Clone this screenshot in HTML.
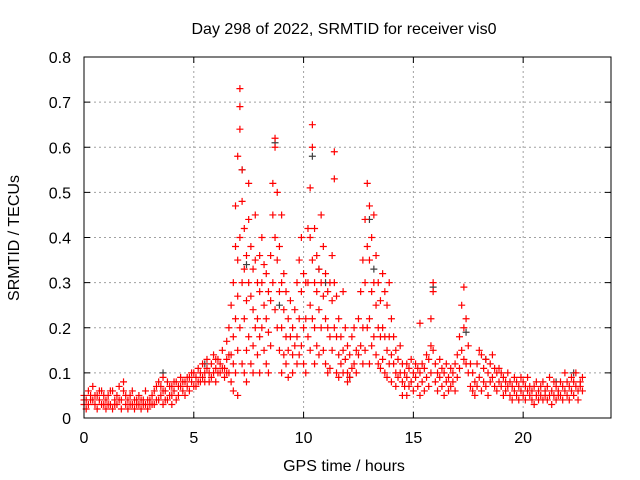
<!DOCTYPE html>
<html><head><meta charset="utf-8"><style>
body{margin:0;background:#fff;}
svg{display:block;font-family:"Liberation Sans",sans-serif;}
</style></head><body>
<svg id="chart" width="640" height="480">
<text x="344" y="34" text-anchor="middle" font-size="16">Day 298 of 2022, SRMTID for receiver vis0</text>
<text x="344" y="471" text-anchor="middle" font-size="16">GPS time / hours</text>
<text transform="translate(19,238) rotate(-90)" text-anchor="middle" font-size="16">SRMTID / TECUs</text>
<g id="grid"></g><g id="ticks"></g><g id="grey"></g><g id="pts"></g>
<rect x="84" y="57" width="527" height="361" fill="none" stroke="#000" stroke-width="1"/>
</svg>
<script>
const xTicks=[0,5,10,15,20];
const yTicks=[0,0.1,0.2,0.3,0.4,0.5,0.6,0.7,0.8];
const yTickLabels=["0","0.1","0.2","0.3","0.4","0.5","0.6","0.7","0.8"];
const times=[0.0,0.1,0.2,0.3,0.4,0.5,0.6,0.7,0.8,0.9,1.0,1.1,1.2,1.3,1.4,1.5,1.6,1.7,1.8,1.9,2.0,2.1,2.2,2.3,2.4,2.5,2.6,2.7,2.8,2.9,3.0,3.1,3.2,3.3,3.4,3.5,3.6,3.7,3.8,3.9,4.0,4.1,4.2,4.3,4.4,4.5,4.6,4.7,4.8,4.9,5.0,5.1,5.2,5.3,5.4,5.5,5.6,5.7,5.8,5.9,6.0,6.1,6.2,6.3,6.4,6.5,6.6,6.7,6.8,6.9,7.0,7.1,7.2,7.3,7.4,7.5,7.6,7.7,7.8,7.9,8.0,8.1,8.2,8.3,8.4,8.5,8.6,8.7,8.8,8.9,9.0,9.1,9.2,9.3,9.4,9.5,9.6,9.7,9.8,9.9,10.0,10.1,10.2,10.3,10.4,10.5,10.6,10.7,10.8,10.9,11.0,11.1,11.2,11.3,11.4,11.5,11.6,11.7,11.8,11.9,12.0,12.1,12.2,12.3,12.4,12.5,12.6,12.7,12.8,12.9,13.0,13.1,13.2,13.3,13.4,13.5,13.6,13.7,13.8,13.9,14.0,14.1,14.2,14.3,14.4,14.5,14.6,14.7,14.8,14.9,15.0,15.1,15.2,15.3,15.4,15.5,15.6,15.7,15.8,15.9,16.0,16.1,16.2,16.3,16.4,16.5,16.6,16.7,16.8,16.9,17.0,17.1,17.2,17.3,17.4,17.5,17.6,17.7,17.8,17.9,18.0,18.1,18.2,18.3,18.4,18.5,18.6,18.7,18.8,18.9,19.0,19.1,19.2,19.3,19.4,19.5,19.6,19.7,19.8,19.9,20.0,20.1,20.2,20.3,20.4,20.5,20.6,20.7,20.8,20.9,21.0,21.1,21.2,21.3,21.4,21.5,21.6,21.7,21.8,21.9,22.0,22.1,22.2,22.3,22.4,22.5,22.6,22.7];
const vals=[[.03,.05,.04],[.04,.02],[.06,.03],[.05,.04],[.04,.07],[.03,.05],[.05,.02],[.04,.06],[.06,.03],[.03,.05],[.02,.04],[.05,.03],[.03,.06],[.06,.02],[.04,.03],[.05,.03],[.07,.04],[.02,.04],[.06,.08],[.03,.05],[.04,.02],[.05,.03],[.03,.06],[.02,.04],[.04,.03],[.03,.05],[.02,.04],[.04,.03],[.03,.06],[.02,.04],[.04,.03],[.05,.03],[.03,.06],[.07,.04],[.04,.08],[.05,.07],[.09,.03,.06],[.06,.04],[.04,.08],[.05,.07],[.07,.03,.05],[.06,.08],[.08,.04],[.05,.07],[.07,.09],[.06,.08],[.08,.05],[.07,.09],[.09,.06],[.08,.1],[.07,.1],[.09,.07],[.08,.11],[.1,.08],[.09,.12],[.08,.1],[.11,.13],[.1,.08],[.12,.09],[.14,.1],[.11,.08,.13],[.13,.1],[.1,.12],[.15,.11],[.11,.09],[.13,.17,.1],[.1,.2,.14],[.14,.25,.08],[.18,.3,.12,.06],[.38,.22,.1,.47],[.58,.35,.15,.27,.05],[.73,.69,.64,.4,.2],[.55,.48,.3,.12],[.42,.33,.22,.1],[.36,.26,.15,.08],[.52,.44,.3,.18],[.38,.27,.12],[.33,.24,.16,.1],[.45,.35,.2],[.3,.22,.14],[.36,.28,.18,.1],[.4,.3,.2],[.34,.25,.15],[.32,.22,.12],[.28,.19,.1],[.36,.26,.16],[.52,.45,.3],[.62,.6,.4,.24],[.5,.35,.2],[.38,.28,.15],[.45,.3,.2,.1],[.32,.24,.14],[.28,.18,.12],[.22,.15,.09],[.26,.18],[.2,.14,.1],[.24,.16],[.3,.18,.12],[.35,.22,.14],[.4,.28,.16],[.32,.2,.12],[.3,.22,.1],[.42,.3,.18],[.51,.4,.25,.15],[.65,.6,.35,.22],[.42,.3,.2,.12],[.36,.28,.16],[.33,.24,.14],[.45,.3,.2],[.38,.27,.15],[.32,.22,.12],[.28,.2,.1],[.3,.18,.11],[.36,.26,.15],[.59,.53,.3,.2],[.27,.18,.1],[.22,.14,.09],[.18,.12],[.28,.15,.1],[.2,.13],[.16,.1,.08],[.14,.09],[.18,.11],[.2,.12],[.15,.1],[.22,.14],[.28,.16],[.35,.2,.12],[.44,.3,.15],[.52,.38,.2],[.47,.35,.22,.12],[.4,.28,.16],[.45,.3,.18],[.36,.25,.14],[.3,.2,.12],[.26,.18,.11],[.32,.2,.13],[.28,.18,.1],[.25,.15,.09],[.3,.18,.12],[.22,.14,.08],[.18,.12],[.15,.1,.07],[.13,.09],[.16,.1],[.12,.08,.05],[.1,.07],[.09,.12,.05],[.11,.07],[.08,.13],[.1,.06],[.09,.12],[.07,.11],[.1,.05,.21],[.08,.12],[.11,.06],[.09,.14],[.13,.07],[.16,.1,.22],[.3,.28,.15],[.12,.08],[.1,.06],[.09,.13],[.07,.11],[.1,.05],[.08,.12],[.09,.06],[.11,.07],[.08,.1],[.12,.06],[.09,.14],[.18,.11],[.25,.15],[.29,.2,.13],[.22,.12],[.16,.1],[.12,.07],[.1,.06],[.08,.05],[.12,.07],[.15,.09],[.14,.06],[.11,.08],[.13,.07],[.1,.05],[.12,.08],[.09,.14],[.11,.07],[.1,.06],[.08,.11],[.07,.1],[.09,.05],[.06,.08],[.1,.07],[.05,.08],[.07,.04],[.09,.06],[.05,.08],[.07,.04],[.06,.09],[.08,.05],[.04,.07],[.06,.09],[.05,.07],[.04,.06],[.07,.03],[.05,.08],[.06,.04],[.07,.05],[.04,.08],[.06,.05],[.07,.04],[.05,.09],[.06,.03],[.08,.05],[.04,.07],[.06,.05],[.05,.08],[.07,.04],[.06,.1],[.05,.08],[.07,.04],[.09,.06],[.05,.08],[.07,.1],[.06,.04],[.08,.07],[.06,.09]];
const greyT=[3.6,5.5,7.2,7.4,8.7,8.9,10.4,10.7,11.0,12.1,13.0,13.2,15.9,17.4,18.3,21.5,22.3];
const greyV=[.1,.12,.55,.34,.61,.25,.58,.33,.3,.09,.44,.33,.29,.19,.13,.08,.1];
const NS="http://www.w3.org/2000/svg";
const X0=84,X1=611,Y0=418,Y1=57,XMAX=24,YMAX=0.8;
function X(t){return X0+t/XMAX*(X1-X0);}
function Y(v){return Y0-v/YMAX*(Y0-Y1);}
const grid=document.getElementById('grid'),tk=document.getElementById('ticks');
function line(p,x1,y1,x2,y2,st,dash){const l=document.createElementNS(NS,'line');l.setAttribute('x1',x1);l.setAttribute('y1',y1);l.setAttribute('x2',x2);l.setAttribute('y2',y2);l.setAttribute('stroke',st);if(dash)l.setAttribute('stroke-dasharray',dash);p.appendChild(l);return l;}
function txt(p,x,y,s,anchor){const t=document.createElementNS(NS,'text');t.setAttribute('x',x);t.setAttribute('y',y);t.setAttribute('font-size','16');t.setAttribute('text-anchor',anchor);t.textContent=s;p.appendChild(t);return t;}
xTicks.forEach(v=>{const x=X(v);
 if(v>0){const g=line(grid,x,Y0,x,Y1,'#a0a0a0','2,3');
 
 }
 line(tk,x,Y0,x,Y0-6,'#000');line(tk,x,Y1,x,Y1+6,'#000');
 const t=txt(tk,x,443,String(v),'middle');
 
 
});
yTicks.forEach((v,i)=>{const y=Y(v);
 if(v>0&&v<YMAX){const g=line(grid,X0,y,X1,y,'#a0a0a0','2,3');
 
 }
 line(tk,X0,y,X0+6,y,'#000');line(tk,X1,y,X1-6,y,'#000');
 const t=txt(tk,71,y+6,yTickLabels[i],'end');
 
 
});
function plus(p,t,v,col){const x=X(t),y=Y(v);const pa=document.createElementNS(NS,'path');
 pa.setAttribute('d',`M${x-3.5},${y}H${x+3.5}M${x},${y-3.5}V${y+3.5}`);pa.setAttribute('stroke',col);pa.setAttribute('stroke-width','1.2');pa.setAttribute('fill','none');
 p.appendChild(pa);return pa;}
const gg=document.getElementById('grey');
greyT.forEach((t,i)=>{const m=plus(gg,t,greyV[i],'#404040');
 
 
});
const pg=document.getElementById('pts');
times.forEach((t,i)=>{vals[i].forEach(v=>{const m=plus(pg,t,v,'#ff0000');
 
 
});});
</script>
</body></html>
